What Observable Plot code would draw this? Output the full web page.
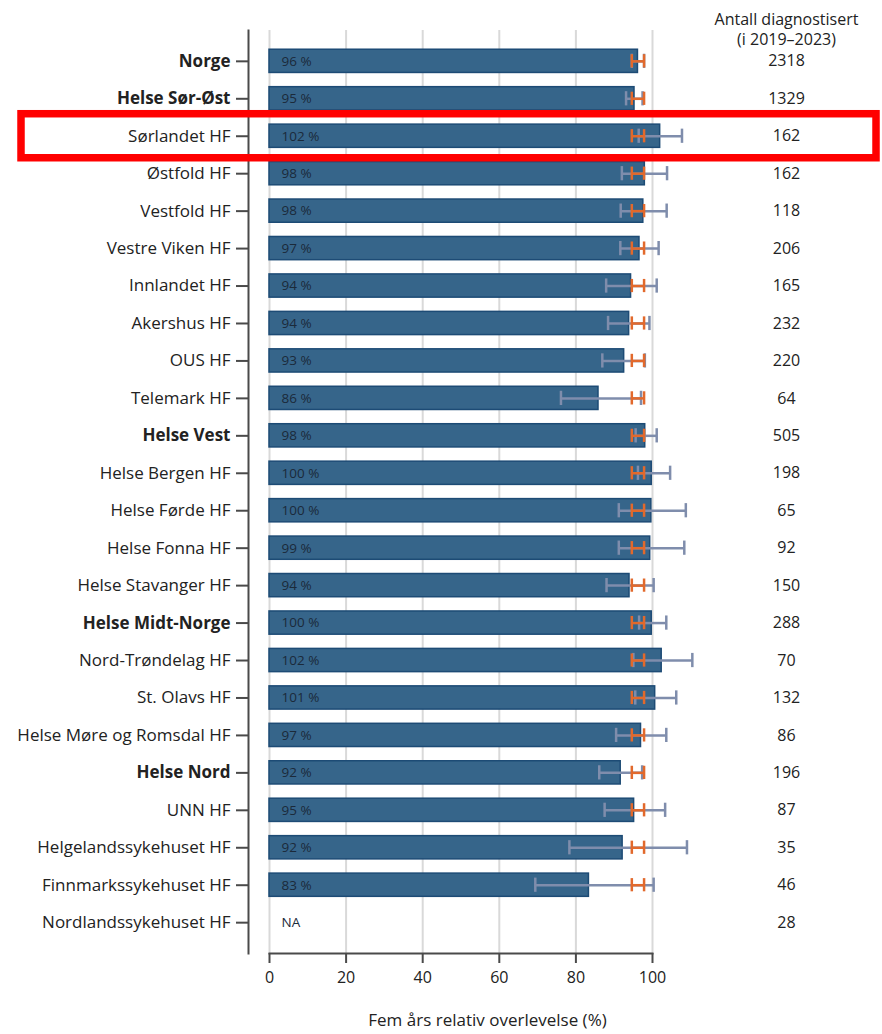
<!DOCTYPE html>
<html><head><meta charset="utf-8">
<script src="https://cdn.jsdelivr.net/npm/d3@7"></script>
<script src="https://cdn.jsdelivr.net/npm/@observablehq/plot@0.6"></script>
<style>body{margin:0;background:#fff;}</style>
</head><body><div id="chart"></div>
<script>
const names = ["Norge","Helse Sør-Øst","Sørlandet HF","Østfold HF","Vestfold HF","Vestre Viken HF","Innlandet HF","Akershus HF","OUS HF","Telemark HF","Helse Vest","Helse Bergen HF","Helse Førde HF","Helse Fonna HF","Helse Stavanger HF","Helse Midt-Norge","Nord-Trøndelag HF","St. Olavs HF","Helse Møre og Romsdal HF","Helse Nord","UNN HF","Helgelandssykehuset HF","Finnmarkssykehuset HF","Nordlandssykehuset HF"];
const values = [96.2, 95.3, 102.0, 98.0, 97.6, 96.6, 94.4, 93.9, 92.6, 85.9, 98.1, 99.8, 99.7, 99.4, 94.0, 99.8, 102.4, 100.7, 97.0, 91.7, 95.2, 92.2, 83.4, null];
const lower = [94.6, 93.1, 96.4, 92.0, 91.7, 91.6, 87.9, 88.4, 86.9, 76.1, 95.6, 96.2, 91.2, 91.2, 88.0, 96.5, 95.0, 95.5, 90.5, 86.1, 87.5, 78.3, 69.4, null];
const upper = [97.8, 97.4, 107.7, 103.8, 103.7, 101.6, 101.1, 99.2, 98.0, 97.0, 101.1, 104.6, 108.7, 108.3, 100.3, 103.6, 110.4, 106.2, 103.6, 97.3, 103.3, 109.0, 100.3, null];
const counts = [2318, 1329, 162, 162, 118, 206, 165, 232, 220, 64, 505, 198, 65, 92, 150, 288, 70, 132, 86, 196, 87, 35, 46, 28];
const boldNames = ["Norge","Helse Sør-Øst","Helse Vest","Helse Midt-Norge","Helse Nord"];
const highlighted = ["Sørlandet HF"];
const norwayCI = [94.6, 97.8];
const xTicks = [0, 20, 40, 60, 80, 100];
const headerText = "Antall diagnostisert\n(i 2019–2023)";
const xLabel = "Fem års relativ overlevelse (%)";

const rows = names.map((name, i) => ({name, value: values[i], lo: lower[i], hi: upper[i], n: counts[i]}));
const withValue = rows.filter(d => d.value != null);
const normalNames = names.filter(n => !boldNames.includes(n));
const hl = rows.filter(d => highlighted.includes(d.name));

const axisColor = "#4a4a4a";
const textColor = "#222";
const grayCI = "#7f8dac";
const orange = "#e2692c";
const font = "'Open Sans', Lato, sans-serif";

const chart = Plot.plot({
  width: 882, height: 1034,
  marginTop: 30, marginBottom: 81, marginLeft: 248, marginRight: 230,
  style: {fontFamily: font, fontSize: "16px", color: textColor, background: "#fff"},
  x: {domain: [xTicks[0], xTicks[xTicks.length - 1]], insetLeft: 21},
  y: {domain: names, padding: 0.38, insetTop: 5, insetBottom: 5, round: false},
  marks: [
    Plot.gridX(xTicks, {stroke: "#d9d9d9", strokeOpacity: 1, strokeWidth: 2}),
    Plot.frame({anchor: "left", stroke: axisColor, strokeWidth: 2}),
    Plot.frame({anchor: "bottom", insetLeft: 21, stroke: axisColor, strokeWidth: 2}),
    Plot.axisX(xTicks, {tickSize: 10, tickPadding: 8, stroke: axisColor, strokeWidth: 2, fontSize: 16, label: null}),
    Plot.axisY(normalNames, {tickSize: 12, tickPadding: 6, stroke: axisColor, strokeWidth: 2, fontSize: 17, label: null}),
    Plot.axisY(boldNames, {tickSize: 12, tickPadding: 6, stroke: axisColor, strokeWidth: 2, fontSize: 17, fontWeight: "bold", label: null}),
    Plot.barX(withValue, {x: "value", y: "name", fill: "#36658a", stroke: "#1d4b75", strokeWidth: 1.5}),
    Plot.ruleY(withValue, {y: "name", x1: "lo", x2: "hi", stroke: grayCI, strokeWidth: 2.5}),
    Plot.tickX(withValue, {x: "lo", y: "name", stroke: grayCI, strokeWidth: 2.5, insetTop: 4.5, insetBottom: 4.5}),
    Plot.tickX(withValue, {x: "hi", y: "name", stroke: grayCI, strokeWidth: 2.5, insetTop: 4.5, insetBottom: 4.5}),
    Plot.ruleY(withValue, {y: "name", x1: () => norwayCI[0], x2: () => norwayCI[1], stroke: orange, strokeWidth: 2.5}),
    Plot.tickX(withValue, {x: () => norwayCI[0], y: "name", stroke: orange, strokeWidth: 2.5, insetTop: 5, insetBottom: 5}),
    Plot.tickX(withValue, {x: () => norwayCI[1], y: "name", stroke: orange, strokeWidth: 2.5, insetTop: 5, insetBottom: 5}),
    Plot.text(rows, {y: "name", text: d => d.value == null ? "NA" : Math.round(d.value) + " %", frameAnchor: "left", dx: 33, textAnchor: "start", fontSize: 13.5, fill: "#1b2a3a"}),
    Plot.text(rows, {y: "name", text: d => String(d.n), frameAnchor: "right", dx: 134, textAnchor: "middle", fontSize: 16, fill: textColor}),
    Plot.text([headerText], {frameAnchor: "top-right", dx: 134, dy: 14, textAnchor: "middle", lineAnchor: "bottom", lineHeight: 1.25, fontSize: 16, fill: textColor}),
    Plot.text([xLabel], {frameAnchor: "bottom", dx: 37, dy: 72, fontSize: 17, fill: textColor}),
    Plot.barX(hl, {x1: () => xTicks[0], x2: () => xTicks[xTicks.length - 1], y: "name", fill: "none", stroke: "#ff0000", strokeWidth: 7.5, insetLeft: -248, insetRight: -224, insetTop: -10.4, insetBottom: -10.4})
  ]
});
document.getElementById("chart").appendChild(chart);
</script>
</body></html>
